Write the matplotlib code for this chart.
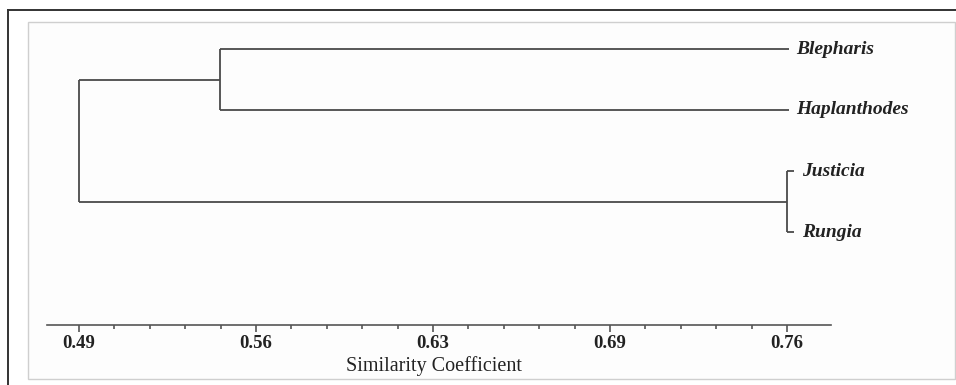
import numpy as np
import matplotlib
matplotlib.use("Agg")
import matplotlib.pyplot as plt
from matplotlib.patches import Rectangle
from matplotlib.lines import Line2D
from matplotlib.ticker import FixedLocator

# data
taxa = ["Blepharis", "Haplanthodes", "Justicia", "Rungia"]
leaf_end = [0.7607, 0.7607, 0.7627, 0.7627]
merge_bh = 0.5438      # Blepharis + Haplanthodes
merge_jr = 0.7600      # Justicia + Rungia
merge_root = 0.49      # both clusters
tick_vals = [0.49, 0.5575, 0.625, 0.6925, 0.76]
tick_labels = ["0.49", "0.56", "0.63", "0.69", "0.76"]

serif = "Liberation Serif"
lc = "#4a4a4a"

fig = plt.figure(figsize=(9.56, 3.85), dpi=100)
W, H = 956, 385

# frames
fig.add_artist(Rectangle((28 / W, 1 - 379 / H), (955 - 28) / W, (379 - 22) / H,
                         transform=fig.transFigure, facecolor="#fdfdfd",
                         edgecolor="#cfcfcf", lw=1.0, zorder=0))
fig.add_artist(Line2D([8 / W, 1.0], [1 - 10 / H, 1 - 10 / H], transform=fig.transFigure,
                      color="#333333", lw=1.4))
fig.add_artist(Line2D([8 / W, 8 / W], [1 - 10 / H, 0.0], transform=fig.transFigure,
                      color="#333333", lw=1.4))

ax = fig.add_axes([0, 1 - 325 / H, 1, 325 / H])
ax.patch.set_alpha(0)
px_per_unit = (787 - 79) / (0.76 - 0.49)
ax.set_xlim(0.49 - 79 / px_per_unit, 0.49 + (W - 79) / px_per_unit)
ax.set_ylim((325 - 49) / 61, -49 / 61)

y = np.arange(len(taxa))
kw = dict(color=lc, lw=1.3, solid_capstyle="butt")

# Blepharis / Haplanthodes
ax.plot([merge_bh, merge_bh], [y[0], y[1]], **kw)
for i in (0, 1):
    ax.plot([merge_bh, leaf_end[i]], [y[i], y[i]], **kw)
# Justicia / Rungia
ax.plot([merge_jr, merge_jr], [y[2], y[3]], **kw)
for i in (2, 3):
    ax.plot([merge_jr, leaf_end[i]], [y[i], y[i]], **kw)
# root
ybh = (y[0] + y[1]) / 2
yjr = (y[2] + y[3]) / 2
ax.plot([merge_root, merge_root], [ybh, yjr], **kw)
ax.plot([merge_root, merge_bh], [ybh, ybh], **kw)
ax.plot([merge_root, merge_jr], [yjr, yjr], **kw)

for i, name in enumerate(taxa):
    ax.annotate(name, (leaf_end[i], y[i]), xytext=(5 if i < 2 else 6, 0),
                textcoords="offset points", ha="left", va="center",
                family=serif, fontsize=14, fontweight="bold", style="italic",
                color="#222222")

for s in ("top", "left", "right"):
    ax.spines[s].set_visible(False)
ax.spines["bottom"].set_bounds(0.4778, 0.7768)
ax.spines["bottom"].set_color("#555555")
ax.spines["bottom"].set_linewidth(1.2)
ax.set_yticks([])

ax.set_xticks(tick_vals, tick_labels)
step = (tick_vals[1] - tick_vals[0]) / 5
ax.xaxis.set_minor_locator(FixedLocator(
    [tick_vals[0] + k * step for k in range(1, 20) if k % 5]))
ax.tick_params(axis="x", which="major", direction="out", length=5, width=1.2,
               color="#555555", pad=2.5)
ax.tick_params(axis="x", which="minor", direction="out", length=3, width=1.2,
               color="#555555")
for t in ax.get_xticklabels():
    t.set_family(serif)
    t.set_fontsize(13.5)
    t.set_fontweight("bold")
    t.set_color("#222222")

ax.set_xlabel("Similarity Coefficient", family=serif, fontsize=14.5,
              color="#222222", va="center")
ax.xaxis.set_label_coords(434 / W, -41 / 325)

fig.savefig("out.png", dpi=100)
